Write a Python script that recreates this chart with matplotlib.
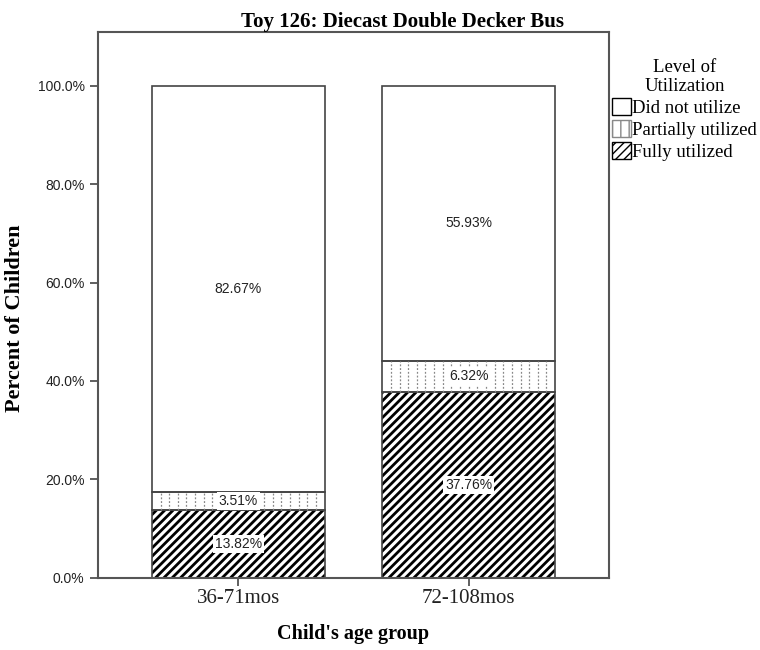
import matplotlib
matplotlib.use("Agg")
import matplotlib.pyplot as plt
import numpy as np
from matplotlib.patches import Patch

# data
groups = ["36-71mos", "72-108mos"]
fully = [13.82, 37.76]
partially = [3.51, 6.32]
not_used = [82.67, 55.93]
levels = ["Did not utilize", "Partially utilized", "Fully utilized"]

SERIF = "Liberation Serif"
SANS = "Liberation Sans"
EDGE = "#444444"


def main():
    fig = plt.figure(figsize=(7.6, 6.5), dpi=100)
    ax = fig.add_axes([0.1286, 0.1112, 0.673, 0.84])

    x = list(range(len(groups)))
    w = 0.75
    bottom_p = fully
    bottom_n = [f + p for f, p in zip(fully, partially)]

    # fully utilized - thick diagonal hatch
    b1 = ax.bar(x, fully, w, color="white", edgecolor="black", linewidth=0, hatch="////")
    for b in b1:
        b.set_hatch_linewidth(2.0)
    # partially utilized - dotted vertical lines
    ax.bar(x, partially, w, bottom=bottom_p, color="white", linewidth=0)
    for i in x:
        xs = np.linspace(i - w / 2, i + w / 2, 21)[1:-1]
        ax.vlines(xs, bottom_p[i], bottom_p[i] + partially[i], colors="#888888",
                  linewidth=0.9, linestyles=(0, (1.5, 1.5)))
    ax.bar(x, not_used, w, bottom=bottom_n, color="white", edgecolor=EDGE, linewidth=1.2)

    # outlines on top
    ax.bar(x, fully, w, fill=False, edgecolor=EDGE, linewidth=1.2)
    ax.bar(x, partially, w, bottom=bottom_p, fill=False, edgecolor=EDGE, linewidth=1.2)

    # value labels
    box = dict(facecolor="white", edgecolor="none", pad=1.5)
    for i in x:
        for val, base in [(fully[i], 0), (partially[i], bottom_p[i]), (not_used[i], bottom_n[i])]:
            ax.text(i, base + val / 2, "%.2f%%" % val, ha="center", va="center",
                    fontsize=10, family=SANS, color="#222222", bbox=box)

    ax.set_xlim(-0.61, 1.61)
    ax.set_ylim(0, 111)
    ax.set_yticks([0, 20, 40, 60, 80, 100])
    ax.set_yticklabels(["%.1f%%" % v for v in [0, 20, 40, 60, 80, 100]], family=SANS,
                       fontsize=10, color="#222222")
    ax.set_xticks(x)
    ax.set_xticklabels(groups, family=SERIF, fontsize=15, color="#222222")
    ax.tick_params(axis="both", direction="out", length=6, width=1.2, color=EDGE)
    ax.tick_params(axis="x", pad=2)
    for s in ax.spines.values():
        s.set_color("#555555")
        s.set_linewidth(1.5)

    ax.set_xlabel("Child's age group", family=SERIF, fontsize=14.5, fontweight="bold", labelpad=12)
    ax.set_ylabel("Percent of Children", family=SERIF, fontsize=16, fontweight="bold")
    ax.yaxis.set_label_coords(-0.142, 0.476)
    ax.set_title("Toy 126: Diecast Double Decker Bus", family=SERIF, fontsize=15,
                 fontweight="bold", x=0.595, pad=2)

    handles = [
        Patch(facecolor="white", edgecolor="black", label=levels[0]),
        Patch(facecolor="white", edgecolor="#888888", hatch="||", label=levels[1]),
        Patch(facecolor="white", edgecolor="black", hatch="////", label=levels[2]),
    ]
    leg = fig.legend(handles=handles, title="Level of\nUtilization", loc="upper left",
                     bbox_to_anchor=(0.805, 0.91), frameon=False,
                     prop={"family": SERIF, "size": 13.5}, handlelength=1.05, handleheight=1.0,
                     handletextpad=0.05, labelspacing=0.17, borderaxespad=0, borderpad=0)
    leg.get_title().set_fontfamily(SERIF)
    leg.get_title().set_fontsize(13.5)
    leg.get_title().set_multialignment("center")

    fig.savefig("out.png", dpi=100)


if __name__ == "__main__":
    main()
